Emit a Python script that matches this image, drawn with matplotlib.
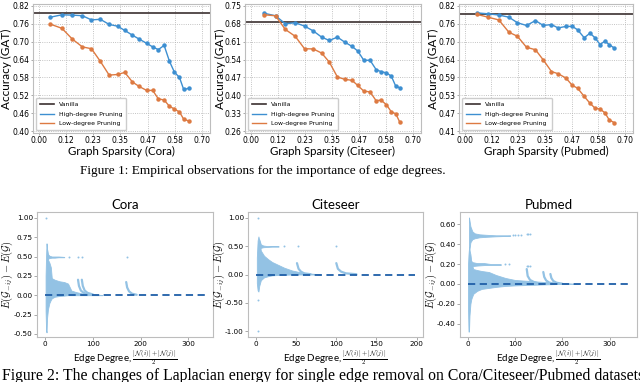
import matplotlib
matplotlib.use('Agg')
import matplotlib.pyplot as plt
import numpy as np

plt.rcParams['font.family'] = ['DejaVu Sans']
plt.rcParams['mathtext.fontset'] = 'cm'

# ---- Figure 1 data: accuracy vs graph sparsity ----
cora_x = [0.049, 0.099, 0.144, 0.187, 0.226, 0.264, 0.302, 0.338, 0.369, 0.402,
          0.431, 0.463, 0.489, 0.513, 0.538, 0.561, 0.582, 0.604, 0.622, 0.644]
cora_high = [0.781, 0.789, 0.788, 0.786, 0.772, 0.774, 0.757, 0.751, 0.737, 0.721,
             0.708, 0.694, 0.682, 0.673, 0.687, 0.634, 0.598, 0.580, 0.540, 0.544]
cora_low = [0.758, 0.744, 0.708, 0.682, 0.676, 0.634, 0.588, 0.590, 0.597, 0.565,
            0.550, 0.537, 0.537, 0.509, 0.505, 0.484, 0.475, 0.465, 0.441, 0.435]
cora_vanilla = 0.796

cite_x = [0.057, 0.107, 0.149, 0.192, 0.232, 0.270, 0.306, 0.339, 0.374, 0.405,
          0.437, 0.462, 0.488, 0.515, 0.541, 0.562, 0.586, 0.607, 0.626, 0.644]
cite_high = [0.720, 0.710, 0.679, 0.683, 0.670, 0.651, 0.627, 0.614, 0.627, 0.608,
             0.591, 0.573, 0.537, 0.537, 0.501, 0.493, 0.488, 0.475, 0.436, 0.430]
cite_low = [0.714, 0.710, 0.657, 0.630, 0.582, 0.581, 0.565, 0.530, 0.472, 0.463,
            0.459, 0.439, 0.417, 0.414, 0.380, 0.382, 0.364, 0.336, 0.329, 0.295]
cite_vanilla = 0.687

pub_x = [0.054, 0.102, 0.149, 0.193, 0.230, 0.270, 0.309, 0.343, 0.379, 0.408,
         0.442, 0.470, 0.493, 0.522, 0.547, 0.569, 0.591, 0.612, 0.631, 0.652]
pub_high = [0.796, 0.793, 0.789, 0.782, 0.764, 0.755, 0.771, 0.755, 0.758, 0.747,
            0.752, 0.752, 0.741, 0.715, 0.730, 0.715, 0.693, 0.704, 0.693, 0.682]
pub_low = [0.791, 0.782, 0.773, 0.733, 0.720, 0.684, 0.676, 0.643, 0.605, 0.598,
           0.584, 0.560, 0.551, 0.524, 0.502, 0.486, 0.483, 0.471, 0.448, 0.439]
pub_vanilla = 0.793

top_names = ['Cora', 'Citeseer', 'Pubmed']
top_ylims = [(0.40, 0.82), (0.26, 0.75), (0.41, 0.82)]

cora_env_x = [1, 2, 3, 4, 6, 9, 12, 14, 20, 30, 40, 48, 55, 65, 80, 100, 120]
cora_env_hi = [0.25, 0.5, 0.67, 0.6, 0.46, 0.42, 0.36, 0.22, 0.2, 0.18, 0.17, 0.15, 0.06, 0.04, 0.02, 0.01, 0.003]
cora_env_lo = [-0.2, -0.45, -0.48, -0.3, -0.18, -0.1, -0.06, -0.04, -0.02, -0.01, -0.005, 0, 0, 0, 0, 0, 0]
cora_band_x = [4, 6, 9, 14, 20, 28, 40]
cora_band_hi = [0.6, 0.53, 0.51, 0.5, 0.5, 0.5, 0.495]
cora_band_lo = [0.45, 0.47, 0.48, 0.485, 0.485, 0.49, 0.49]
cora_pts_x = [2, 50, 70, 78, 172]
cora_pts_y = [1.0, 0.5, 0.5, 0.5, 0.5]
cora_branches = [([69, 71, 75, 81, 90], [0.2, 0.12, 0.06, 0.03, 0.01]),
                 ([77, 79, 83, 89, 100], [0.2, 0.12, 0.06, 0.03, 0.01]),
                 ([170, 172, 176, 182, 192], [0.17, 0.1, 0.05, 0.02, 0.005])]
cora_max_deg = 340

cite_env_x = [1, 2, 3, 4, 6, 10, 15, 20, 26, 35, 45, 55, 65, 80]
cite_env_hi = [0.3, 0.6, 0.67, 0.6, 0.42, 0.33, 0.27, 0.22, 0.18, 0.12, 0.07, 0.04, 0.02, 0.003]
cite_env_lo = [-0.15, -0.28, -0.3, -0.2, -0.1, -0.05, -0.03, -0.015, -0.01, -0.005, 0, 0, 0, 0]
cite_band_x = [4, 6, 9, 14, 20, 28]
cite_band_hi = [0.62, 0.53, 0.51, 0.5, 0.5, 0.5]
cite_band_lo = [0.45, 0.47, 0.48, 0.485, 0.49, 0.49]
cite_pts_x = [2, 2, 3, 35, 52, 100]
cite_pts_y = [1.0, -1.0, -0.45, 0.5, 0.5, 0.5]
cite_branches = [([51, 53, 56, 60, 68], [0.2, 0.1, 0.05, 0.02, 0.005]),
                 ([100, 102, 106, 112, 125], [0.2, 0.1, 0.05, 0.02, 0.005])]
cite_max_deg = 198

pub_env_x = [1, 2, 3, 4, 6, 8, 12, 20, 30, 45, 60, 80, 100, 130, 160, 200, 235]
pub_env_hi = [0.2, 0.3, 0.36, 0.34, 0.3, 0.22, 0.15, 0.14, 0.13, 0.12, 0.09, 0.06, 0.04, 0.03, 0.02, 0.01, 0.0]
pub_env_lo = [-0.25, -0.48, -0.48, -0.32, -0.2, -0.15, -0.1, -0.07, -0.05, -0.04, -0.03, -0.02, -0.015, -0.01, -0.005, 0, 0]
pub_band_x = [3, 4, 6, 10, 15, 25, 40, 60, 90]
pub_band_hi = [0.67, 0.64, 0.58, 0.53, 0.51, 0.5, 0.495, 0.49, 0.49]
pub_band_lo = [0.3, 0.35, 0.42, 0.45, 0.46, 0.47, 0.475, 0.48, 0.485]
pub_band2_x = [6, 10, 20, 35, 50, 70]
pub_band2_hi = [0.24, 0.22, 0.21, 0.21, 0.2, 0.2]
pub_band2_lo = [0.17, 0.18, 0.185, 0.19, 0.19, 0.19]
pub_pts_x = [95, 100, 106, 112, 125, 128, 131, 80, 88, 125, 128, 131]
pub_pts_y = [0.49, 0.49, 0.49, 0.49, 0.5, 0.5, 0.5, 0.2, 0.2, 0.18, 0.18, 0.18]
pub_branches = [([125, 127, 132, 140, 150], [0.15, 0.08, 0.04, 0.02, 0.005]),
                ([160, 162, 166, 172, 182], [0.12, 0.07, 0.035, 0.015, 0.003]),
                ([175, 177, 181, 188, 200], [0.1, 0.06, 0.03, 0.012, 0.002])]
pub_max_deg = 340

BLUE = '#3d8fd1'
ORANGE = '#dd7a42'
DARK = '#3b3030'
SCAT = '#93c2e4'
DASH = '#1f5fa8'
SPINE = '#bdbdbd'
LABEL_FONT = 'Lato'

W, H = 640, 382
fig = plt.figure(figsize=(W / 100, H / 100), dpi=100)


def px_axes(l, t, r, b):
    return fig.add_axes([l / W, 1 - b / H, (r - l) / W, (b - t) / H])


# ---- top row ----
top_rects = [(33, 4, 210, 133), (245, 4, 421, 133), (459, 4, 633, 133)]
top_ylab_x = [6.5, 220, 433]
top_data = [(cora_x, cora_high, cora_low, cora_vanilla),
            (cite_x, cite_high, cite_low, cite_vanilla),
            (pub_x, pub_high, pub_low, pub_vanilla)]
for rect, lx, (xs, hi, lo, van), name, (y0, y1) in zip(top_rects, top_ylab_x, top_data, top_names, top_ylims):
    ax = px_axes(*rect)
    ax.axhline(van, color=DARK, lw=1.2, label='Vanilla')
    ax.plot(xs, hi, color=BLUE, lw=1.0, label='High-degree Pruning')
    ax.plot(xs, hi, 'o', color=BLUE, ms=2.2)
    ax.plot(xs, lo, color=ORANGE, lw=1.0, label='Low-degree Pruning')
    ax.plot(xs, lo, 'o', color=ORANGE, ms=2.2)
    ax.set_xlim(-0.025, 0.735)
    pad = (y1 - y0) * 0.012
    ax.set_ylim(y0 - pad, y1 + pad)
    ax.set_xticks(np.linspace(0, 0.70, 7))
    ax.set_yticks(np.linspace(y0, y1, 8))
    ax.xaxis.set_major_formatter(matplotlib.ticker.FormatStrFormatter('%.2f'))
    ax.yaxis.set_major_formatter(matplotlib.ticker.FormatStrFormatter('%.2f'))
    ax.tick_params(labelsize=5.5, length=1.5, width=0.5, color='#888888', pad=1)
    ax.grid(True, linestyle=':', color='#b0b0b0', lw=0.6)
    for s in ax.spines.values():
        s.set_color(SPINE)
    w = rect[2] - rect[0]
    ax.set_xlabel('Graph Sparsity (%s)' % name, fontsize=8.3, family=LABEL_FONT, labelpad=0)
    ax.set_ylabel('Accuracy (GAT)', fontsize=8.5, family=LABEL_FONT, va='center')
    ax.yaxis.set_label_coords((lx - rect[0]) / w, 0.5)
    ax.legend(loc='lower left', fontsize=4.4, handlelength=2.4, borderpad=0.6,
              labelspacing=0.7, framealpha=1, edgecolor='#cccccc')

fig.text(80 / W, 1 - 171 / H, 'Figure 1: Empirical observations for the importance of edge degrees.',
         family='Liberation Serif', fontsize=9.5, ha='left', va='center')

# ---- bottom row ----
bot_rects = [(37, 212, 213, 337), (248, 212, 423, 337), (460, 212, 637, 337)]
bot_ylab_x = [7, 219, 431]
bot_sets = [
    ('Cora', cora_env_x, cora_env_hi, cora_env_lo, [(cora_band_x, cora_band_hi, cora_band_lo)],
     cora_pts_x, cora_pts_y, cora_branches, cora_max_deg, (-17, 352), (-0.54, 1.075),
     [-0.5, -0.25, 0, 0.25, 0.5, 0.75, 1.0], [0, 100, 200, 300]),
    ('Citeseer', cite_env_x, cite_env_hi, cite_env_lo, [(cite_band_x, cite_band_hi, cite_band_lo)],
     cite_pts_x, cite_pts_y, cite_branches, cite_max_deg, (-10, 208), (-1.1, 1.1),
     [-1.0, -0.5, 0, 0.5, 1.0], [0, 50, 100, 150, 200]),
    ('Pubmed', pub_env_x, pub_env_hi, pub_env_lo,
     [(pub_band_x, pub_band_hi, pub_band_lo), (pub_band2_x, pub_band2_hi, pub_band2_lo)],
     pub_pts_x, pub_pts_y, pub_branches, pub_max_deg, (-16, 358), (-0.535, 0.725),
     [-0.4, -0.2, 0, 0.2, 0.4, 0.6], [0, 100, 200, 300]),
]
for rect, lx, (name, ex, ehi, elo, bands, ptx, pty, branches, mx, xl, yl, yt, xt) in zip(bot_rects, bot_ylab_x, bot_sets):
    ax = px_axes(*rect)
    ax.fill_between(ex, elo, ehi, color=SCAT, lw=0.6, edgecolor=SCAT)
    for bx, bhi, blo in bands:
        ax.fill_between(bx, blo, bhi, color=SCAT, lw=0.6, edgecolor=SCAT)
    for bx, by in branches:
        ax.plot(bx, by, color=SCAT, lw=1.6, solid_capstyle='round')
    ax.scatter(ptx, pty, s=2, color=SCAT, lw=0)
    ax.plot([0, mx], [0, 0], '--', color=DASH, lw=1.3, dashes=(4, 2.5))
    ax.set_xlim(*xl)
    ax.set_ylim(*yl)
    ax.set_xticks(xt)
    ax.set_yticks(yt)
    ax.yaxis.set_major_formatter(matplotlib.ticker.FormatStrFormatter('%.2f'))
    ax.tick_params(labelsize=5.2, length=2, width=0.5, color='#888888', pad=1)
    for s in ax.spines.values():
        s.set_color(SPINE)
    w = rect[2] - rect[0]
    h = rect[3] - rect[1]
    ax.set_title(name, fontsize=9.5, pad=2, family=LABEL_FONT)
    ax.set_xlabel(r'Edge Degree, $\frac{|\mathcal{N}(i)|+|\mathcal{N}(j)|}{2}$', fontsize=7,
                  family=LABEL_FONT, va='center')
    ax.xaxis.set_label_coords(0.5, -21 / h)
    ax.set_ylabel(r'$E(\mathcal{G}_{-ij})-E(\mathcal{G})$', fontsize=7.5, va='center')
    ax.yaxis.set_label_coords((lx - rect[0]) / w, 0.5)

fig.text(2 / W, 1 - 376 / H,
         'Figure 2: The changes of Laplacian energy for single edge removal on Cora/Citeseer/Pubmed datasets.',
         family='Liberation Serif', fontsize=11.3, ha='left', va='center')

fig.savefig('out.png', dpi=100)
